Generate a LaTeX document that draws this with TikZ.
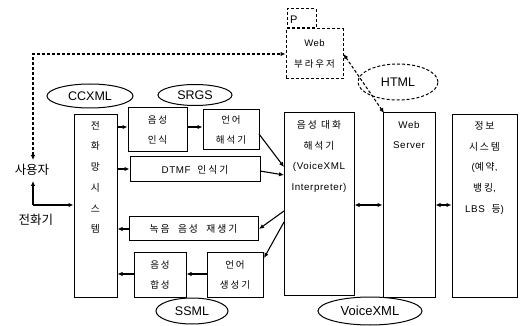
\documentclass[tikz,border=0pt]{standalone}
\usepackage{fontspec}
\setmainfont{Liberation Sans}
\newfontfamily\lt[LetterSpace=6]{Liberation Sans}
\newfontfamily\kr[LetterSpace=20]{Noto Sans CJK KR}
\newfontfamily\krb{Noto Sans CJK KR}
\usetikzlibrary{shapes.geometric,arrows.meta}
\begin{document}
\begin{tikzpicture}[x=1pt,y=-1pt,
  box/.style={draw,line width=1pt,inner sep=0pt},
  dbox/.style={draw,line width=1pt,dash pattern=on 3pt off 2pt,inner sep=0pt},
  txt/.style={inner sep=0pt,align=center,font=\lt\fontsize{9.8}{20.7}\selectfont},
  big/.style={inner sep=0pt,font=\krb\fontsize{12.5}{14}\selectfont},
  oval/.style={ellipse,draw,line width=1pt,inner sep=0pt,font=\fontsize{12.5}{14}\selectfont},
  arr/.style={line width=1.1pt,-{Latex[length=5pt,width=4.5pt]}},
  darr/.style={line width=1.1pt,{Latex[length=5pt,width=4.5pt]}-{Latex[length=5pt,width=4.5pt]}},
  dsh/.style={line width=1.1pt,dash pattern=on 3pt off 2pt,{Latex[length=5pt,width=4.5pt]}-{Latex[length=5pt,width=4.5pt]}}]
\useasboundingbox (0,0) rectangle (520,326);
% boxes
\node[box,minimum width=43pt,minimum height=182pt] (tel) at (95.5,206) {};
\node[txt,anchor=north] (telt) at (95.5,121) {\kr 전\\\kr 화\\\kr 망\\\kr 시\\\kr 스\\\kr 템};
\node[box,minimum width=59pt,minimum height=44pt,txt,font=\fontsize{9.5}{20}\selectfont] (sr) at (157.5,130) {\kr 음성\\\kr 인식};
\node[box,minimum width=56pt,minimum height=40pt,txt,font=\fontsize{9.5}{20}\selectfont] (nlu) at (231,130) {\kr 언어\\\kr 해석기};
\node[box,minimum width=130pt,minimum height=25pt,txt] (dtmf) at (195,169.5) {DTMF\ \ {\kr 인식기}};
\node[box,minimum width=129pt,minimum height=24pt,txt] (rec) at (193.5,229) {\kr 녹음\ \ 음성\ \ 재생기};
\node[box,minimum width=52pt,minimum height=44pt,txt,font=\fontsize{9.5}{20}\selectfont] (tts) at (160,275) {\kr 음성\\\kr 합성};
\node[box,minimum width=56pt,minimum height=44pt,txt,font=\fontsize{9.5}{20}\selectfont] (nlg) at (235,275) {\kr 언어\\\kr 생성기};
\node[box,minimum width=70pt,minimum height=182pt] (interp) at (319,204) {};
\node[txt,anchor=north] (interpt) at (319,120) {{\kr 음성\ 대화}\\{\kr 해석기}\\(VoiceXML\\Interpreter)};
\node[box,minimum width=52pt,minimum height=184pt] (ws) at (409,205) {};
\node[txt,anchor=north] (wst) at (409,121) {Web\\Server};
\node[box,minimum width=65pt,minimum height=182pt] (info) at (484.5,206) {};
\node[txt,anchor=north] (infot) at (484.5,121) {{\kr 정보}\\{\kr 시스템}\\({\kr 예약},\\{\kr 뱅킹},\\LBS\ \ {\kr 등})};
% browser
\node[dbox,minimum width=29pt,minimum height=19pt] (p) at (301.5,18.5) {};
\node[inner sep=0pt,font=\fontsize{11}{12}\selectfont,anchor=west] (pt) at (290,20) {P};
\node[dbox,minimum width=57pt,minimum height=50pt,txt,font=\lt\fontsize{9.5}{21}\selectfont] (br) at (314.5,54) {Web\\\kr 부라우저};
% ellipses
\node[oval,minimum width=86pt,minimum height=24pt] (ccxml) at (90,96) {CCXML};
\node[oval,minimum width=74pt,minimum height=21pt] (srgs) at (195,95) {SRGS};
\node[oval,minimum width=72pt,minimum height=26pt] (ssml) at (192,311) {SSML};
\node[oval,minimum width=104pt,minimum height=28pt,font=\fontsize{13}{15}\selectfont] (vxml) at (370,311) {VoiceXML};
\node[oval,dash pattern=on 3pt off 2pt,minimum width=80pt,minimum height=36pt] (html) at (398,82) {HTML};
% user and phone
\node[big] (user) at (32,170) {사용자};
\node[big] (phone) at (36,220) {전화기};
\coordinate (pc) at (33,205);
\draw[arr] (pc) -- (33,181);
\draw[arr] (pc) -- (tel.west |- pc);
\draw[dsh] (33,160) |- (br.west);
\draw[dsh] (br.east) -- (384,113);
% arrows
\draw[arr] (tel.east |- 0,127) -- (sr.west |- 0,127);
\draw[arr] (tel.east |- 0,169) -- (dtmf.west |- 0,169);
\draw[arr] (sr.east |- 0,127) -- (nlu.west |- 0,127);
\draw[arr] (259,134) -- (284,167);
\draw[arr] (260,171) -- (284,175);
\draw[arr] (284,211) -- (259,229);
\draw[arr] (284,222) -- (264,258);
\draw[arr] (rec.west) -- (tel.east |- rec.west);
\draw[arr] (tts.west |- 0,274) -- (tel.east |- 0,274);
\draw[arr] (nlg.west |- 0,274) -- (tts.east |- 0,274);
\draw[darr] (interp.east |- 0,205) -- (ws.west |- 0,205);
\draw[darr] (ws.east |- 0,205) -- (info.west |- 0,205);
\end{tikzpicture}
\end{document}
